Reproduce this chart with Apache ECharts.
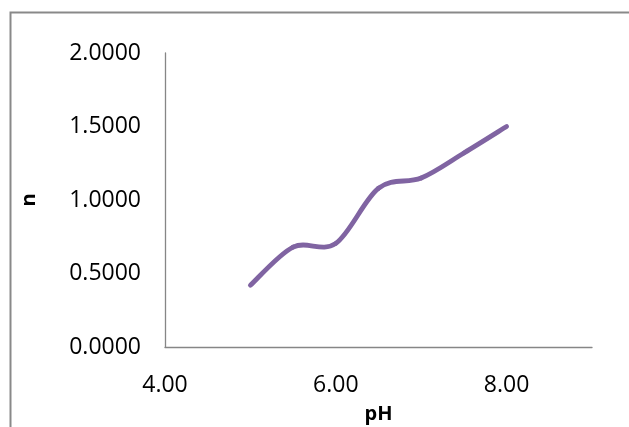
<!DOCTYPE html>
<html><head><meta charset="utf-8">
<script src="https://cdn.jsdelivr.net/npm/echarts@6/dist/echarts.min.js"></script>
<style>html,body{margin:0;padding:0;background:#fff}#c{width:629px;height:427px}</style>
</head><body><div id="c"></div>
<script>
const pH = [5.0, 5.5, 6.0, 6.5, 7.0, 7.5, 8.0];
const nValues = [0.42, 0.68, 0.705, 1.08, 1.15, 1.32, 1.50];
const xTicks = [4, 6, 8];
const yTicks = [0, 0.5, 1.0, 1.5, 2.0];

const chart = echarts.init(document.getElementById('c'));
const font = 'Open Sans';
const lineColor = '#8064A2';

// Excel-style smoothed line: cubic Bezier per segment with Catmull-Rom control points
function renderSegment(params, api) {
  const i = params.dataIndex;
  const last = pH.length - 1;
  if (i >= last) return null;
  const p = j => api.coord([pH[Math.max(0, Math.min(last, j))], nValues[Math.max(0, Math.min(last, j))]]);
  const p0 = p(i - 1), p1 = p(i), p2 = p(i + 1), p3 = p(i + 2);
  const c1 = [p1[0] + (p2[0] - p0[0]) / 6, p1[1] + (p2[1] - p0[1]) / 6];
  const c2 = [p2[0] - (p3[0] - p1[0]) / 6, p2[1] - (p3[1] - p1[1]) / 6];
  return {
    type: 'bezierCurve',
    shape: {x1: p1[0], y1: p1[1], x2: p2[0], y2: p2[1], cpx1: c1[0], cpy1: c1[1], cpx2: c2[0], cpy2: c2[1]},
    style: {stroke: lineColor, lineWidth: 4.8, fill: null, lineCap: 'round'}
  };
}

chart.setOption({
  animation: false,
  backgroundColor: '#fff',
  graphic: [{type: 'rect', left: 8, top: 10, shape: {width: 800, height: 600},
    style: {fill: 'none', stroke: '#898989', lineWidth: 2}}],
  grid: {left: 165, top: 53, right: 37, bottom: 80, containLabel: false, outerBoundsMode: 'none'},
  xAxis: {type: 'value', min: 4, max: 9, interval: 2,
    name: 'pH', nameLocation: 'middle', nameGap: 57,
    nameTextStyle: {fontFamily: font, fontWeight: 'bold', fontSize: 20, color: '#000'},
    axisLine: {lineStyle: {color: '#868686', width: 1.3}},
    axisTick: {show: false}, splitLine: {show: false},
    axisLabel: {showMaxLabel: false, margin: 27, fontFamily: font, fontSize: 23, color: '#000',
      formatter: v => v.toFixed(2)}},
  yAxis: {type: 'value', min: 0, max: 2, interval: 0.5,
    name: 'n', nameLocation: 'middle', nameGap: 126, nameRotate: 90,
    nameTextStyle: {fontFamily: font, fontWeight: 'bold', fontSize: 20, color: '#000'},
    axisLine: {show: true, lineStyle: {color: '#868686', width: 1.3}},
    axisTick: {show: false}, splitLine: {show: false},
    axisLabel: {margin: 24, fontFamily: font, fontSize: 23, color: '#000',
      formatter: v => v.toFixed(4)}},
  series: [{type: 'custom', renderItem: renderSegment, clip: false,
    data: pH.map((x, i) => [x, nValues[i]]), encode: {x: 0, y: 1}}]
});
</script></body></html>
